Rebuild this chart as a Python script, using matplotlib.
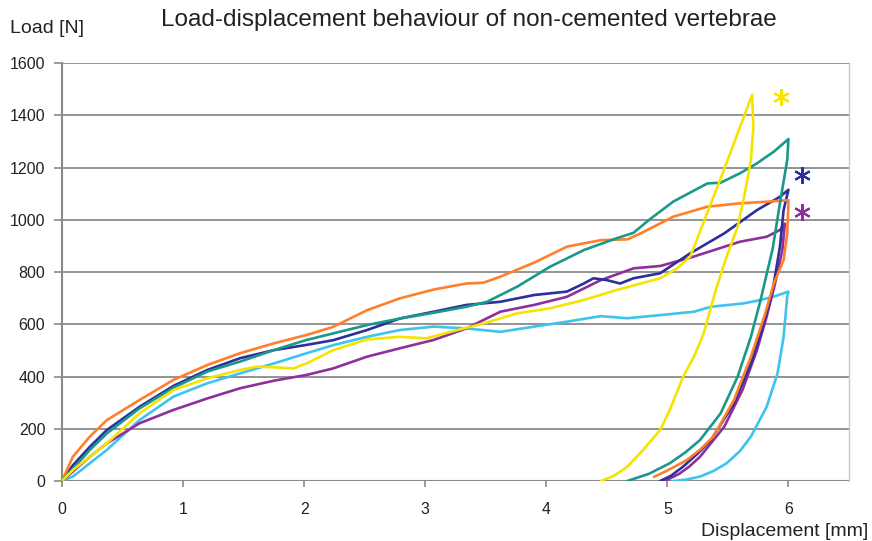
import matplotlib
matplotlib.use("Agg")
import matplotlib.pyplot as plt

plt.rcParams["font.family"] = ["Liberation Sans", "DejaVu Sans"]

# Curves: loading branch followed by unloading branch
yellow_x = [0, 0.09, 0.23, 0.37, 0.64, 0.92, 1.2, 1.47, 1.61, 1.75, 1.91, 2.02, 2.24, 2.52, 2.79,
            3.01, 3.21, 3.48, 3.76, 4.03, 4.31, 4.58, 4.94, 5.08, 5.19, 5.45, 5.7,
            5.71, 5.69, 5.64, 5.58, 5.48, 5.40, 5.30, 5.22, 5.13, 5.02, 4.94, 4.80, 4.67, 4.56, 4.45]
yellow_y = [0, 42, 93, 144, 259, 348, 393, 425, 438, 435, 431, 450, 501, 542, 552,
            546, 571, 603, 642, 661, 693, 731, 776, 814, 860, 1170, 1478,
            1356, 1229, 1101, 973, 846, 731, 565, 476, 399, 272, 195, 119, 55, 20, 0]

teal_x = [0, 0.23, 0.37, 0.64, 0.92, 1.2, 1.47, 1.75, 2.02, 2.24, 2.52, 2.79, 3.07, 3.34, 3.51,
          3.76, 4.03, 4.31, 4.58, 4.72, 4.85, 5.05, 5.33, 5.44, 5.6, 5.74, 5.88, 6.0,
          5.99, 5.93, 5.87, 5.77, 5.69, 5.58, 5.44, 5.27, 5.15, 5.02, 4.85, 4.67]
teal_y = [0, 119, 182, 278, 357, 419, 457, 501, 540, 565, 597, 622, 644, 667, 686,
          744, 820, 884, 929, 950, 1000, 1070, 1139, 1142, 1178, 1216, 1261, 1309,
          1229, 1064, 890, 693, 552, 399, 259, 157, 110, 68, 28, 0]

navy_x = [0, 0.09, 0.23, 0.37, 0.64, 0.92, 1.2, 1.47, 1.75, 2.02, 2.24, 2.52, 2.79, 3.07, 3.34,
          3.62, 3.9, 4.17, 4.31, 4.39, 4.5, 4.61, 4.72, 4.94, 5.19, 5.47, 5.74, 5.93, 6.0,
          5.96, 5.93, 5.87, 5.78, 5.69, 5.55, 5.36, 5.25, 5.13, 5.03, 4.94]
navy_y = [0, 60, 131, 195, 284, 364, 425, 470, 501, 521, 539, 578, 622, 648, 674,
          686, 712, 725, 756, 776, 769, 756, 776, 795, 872, 948, 1037, 1088, 1115,
          1037, 897, 731, 578, 450, 297, 157, 105, 55, 20, 0]

orange_x = [0, 0.09, 0.23, 0.37, 0.64, 0.92, 1.2, 1.47, 1.75, 2.02, 2.24, 2.52, 2.79, 3.07, 3.34,
            3.48, 3.62, 3.9, 4.17, 4.45, 4.67, 4.78, 5.05, 5.33, 5.6, 5.82, 6.0,
            6.0, 5.99, 5.96, 5.88, 5.80, 5.69, 5.55, 5.38, 5.27, 5.16, 5.0, 4.89]
orange_y = [0, 93, 170, 233, 310, 387, 444, 489, 527, 559, 590, 654, 699, 733, 756,
            759, 782, 836, 897, 922, 925, 948, 1012, 1050, 1063, 1069, 1075,
            1063, 948, 846, 757, 629, 476, 310, 170, 120, 80, 40, 16]

purple_x = [0, 0.23, 0.37, 0.64, 0.92, 1.2, 1.47, 1.75, 2.02, 2.24, 2.52, 2.79, 3.07, 3.34,
            3.62, 3.9, 4.17, 4.45, 4.72, 4.94, 5.19, 5.6, 5.82, 5.93, 5.97,
            5.95, 5.89, 5.82, 5.74, 5.62, 5.47, 5.27, 5.18, 5.1, 4.98]
purple_y = [0, 93, 144, 221, 272, 316, 355, 384, 406, 431, 476, 508, 540, 584,
            648, 674, 705, 769, 814, 823, 855, 916, 935, 961, 985,
            884, 757, 629, 501, 348, 208, 93, 55, 28, 0]

cyan_x = [0, 0.09, 0.23, 0.37, 0.64, 0.92, 1.2, 1.47, 1.75, 2.02, 2.24, 2.52, 2.79, 3.07, 3.34,
          3.62, 3.9, 4.17, 4.45, 4.67, 4.94, 5.22, 5.36, 5.63, 5.77, 5.88, 6.0,
          5.99, 5.96, 5.91, 5.82, 5.69, 5.6, 5.49, 5.38, 5.27, 5.15, 5.05]
cyan_y = [0, 17, 68, 119, 233, 323, 374, 412, 450, 489, 520, 552, 578, 591, 584,
          571, 591, 610, 631, 623, 635, 648, 667, 680, 693, 706, 725,
          706, 552, 412, 284, 170, 115, 68, 38, 17, 5, 0]

# significance markers (asterisks) next to three curves
star_x = [5.94, 6.11, 6.11]
star_y = [1470, 1171, 1030]
star_colors = ["#F5E400", "#2E2E9E", "#8E2F9C"]

x_ticks = [0, 1, 2, 3, 4, 5, 6]
y_ticks = [0, 200, 400, 600, 800, 1000, 1200, 1400, 1600]

fig = plt.figure(figsize=(8.72, 5.41), dpi=100)
ax = fig.add_axes([0.0711, 0.1109, 0.9736 - 0.0711, 0.8835 - 0.1109])

series = [
    (cyan_x, cyan_y, "#3EC3EE"),
    (purple_x, purple_y, "#8E2F9C"),
    (navy_x, navy_y, "#2E2E9E"),
    (orange_x, orange_y, "#FF7F2A"),
    (teal_x, teal_y, "#1A998A"),
    (yellow_x, yellow_y, "#F5E400"),
]
for xs, ys, c in series:
    ax.plot(xs, ys, color=c, lw=1.9, solid_capstyle="round", solid_joinstyle="round", zorder=3)

for sx, sy, sc in zip(star_x, star_y, star_colors):
    ax.plot(sx, sy, marker=(6, 2, 0), markersize=12, mew=1.5, color=sc, zorder=4,
            clip_on=False)

ax.set_xlim(0, 6.5)
ax.set_ylim(0, 1600)
ax.set_xticks(x_ticks)
ax.set_yticks(y_ticks)
ax.yaxis.grid(True, color="#8a8a8a", lw=1.3)
ax.set_axisbelow(True)

for side in ["top", "bottom"]:
    ax.spines[side].set_visible(False)
ax.spines["left"].set_color("#8a8a8a")
ax.spines["left"].set_linewidth(1.5)
ax.spines["right"].set_color("#c8c8c8")
ax.spines["right"].set_linewidth(1.0)
ax.axhline(0, color="#8a8a8a", lw=1.5, zorder=2)

ax.tick_params(axis="y", length=6, width=1.2, color="#8a8a8a", labelsize=11.5,
               labelcolor="#222222", pad=6)
ax.tick_params(axis="x", length=4, width=1.2, color="#8a8a8a", labelsize=11.5,
               labelcolor="#222222", pad=11)

fig.text(0.538, 0.963, "Load-displacement behaviour of non-cemented vertebrae",
         ha="center", va="center", fontsize=17.5, color="#222222")
fig.text(0.011, 0.947, "Load [N]", ha="left", va="center", fontsize=14, color="#222222")
fig.text(0.996, 0.018, "Displacement [mm]", ha="right", va="center", fontsize=14,
         color="#222222")

fig.savefig("out.png", dpi=100)
